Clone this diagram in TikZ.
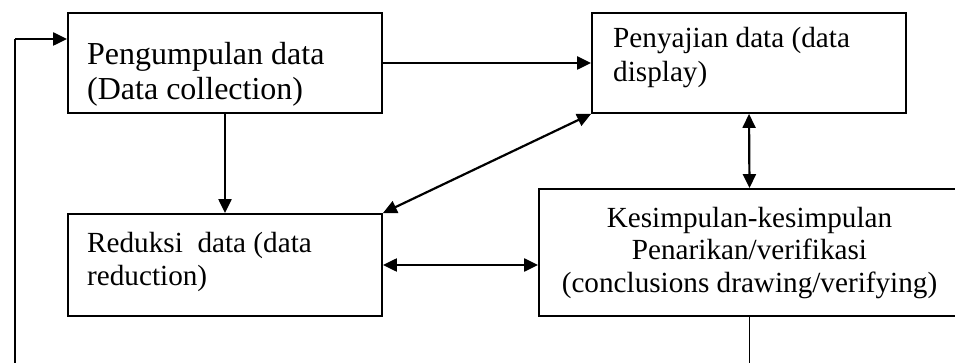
\documentclass[tikz,border=0pt]{standalone}
\usepackage{fontspec}
\setmainfont{Liberation Serif}
\usetikzlibrary{arrows.meta}
\begin{document}
\begin{tikzpicture}[x=1pt,y=-1pt,
  box/.style={draw,line width=1.8pt,rectangle,inner sep=0pt},
  txt/.style={inner sep=0pt,align=left},
  conn/.style={line width=2.2pt,-{Triangle[length=14pt,width=13pt]}},
  dconn/.style={line width=2.2pt,{Triangle[length=14pt,width=13pt]}-{Triangle[length=14pt,width=13pt]}},
  plain/.style={line width=1.8pt}]
\useasboundingbox (0,0) rectangle (955,363);
\clip (0,0) rectangle (955,363);
% boxes
\node[box,minimum width=314pt,minimum height=100pt] (b1) at (225,63) {};
\node[box,minimum width=314pt,minimum height=100pt] (b2) at (749,63) {};
\node[box,minimum width=314pt,minimum height=102pt] (b3) at (225,265) {};
\node[box,minimum width=421pt,minimum height=127pt] (b4) at (749.5,252.5) {};
% texts (anchor = baseline of last line)
\node[txt,anchor=base west,font=\fontsize{32}{35}\selectfont] (t1) at (87,100)
  {Pengumpulan data\\(Data collection)};
\node[txt,anchor=base west,font=\fontsize{29.2}{34}\selectfont] (t2) at (613,82)
  {Penyajian data (data\\display)};
\node[txt,anchor=base west,font=\fontsize{29.2}{33}\selectfont] (t3) at (87,285)
  {Reduksi\ \ data (data\\reduction)};
\node[txt,align=center,anchor=base,font=\fontsize{29.2}{32.5}\selectfont] (t4) at (749.5,292)
  {Kesimpulan-kesimpulan\\Penarikan/verifikasi\\(conclusions drawing/verifying)};
% connectors
\draw[conn] (b1.east) -- (b2.west);
\draw[conn] (b1.south) -- (b3.north);
\draw[dconn] (b2.south west) -- (b3.north east);
\draw[dconn] (b2.south) -- (b4.north);
\draw[dconn] (b3.east) -- (b3.east -| b4.west);
\coordinate (fbbot) at (15,380);
\coordinate (fbtop) at (15,39);
\draw[plain] (b4.south) |- (fbbot) -- (fbtop);
\draw[conn] (fbtop) -- (fbtop -| b1.west);
\end{tikzpicture}
\end{document}
